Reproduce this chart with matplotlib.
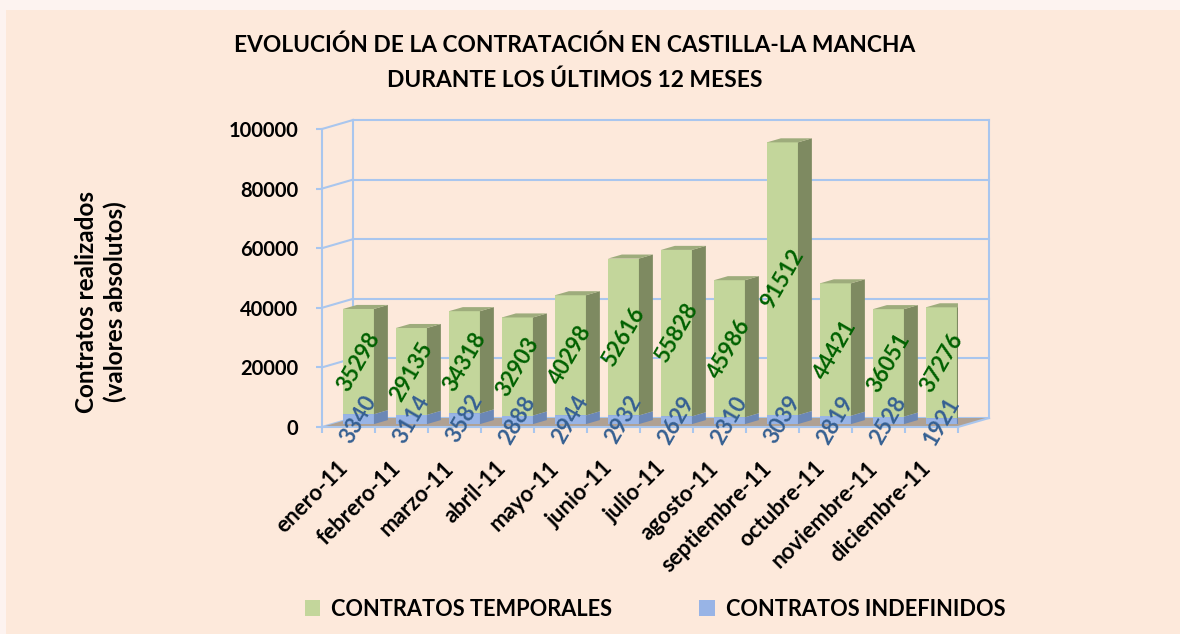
import numpy as np
import matplotlib.pyplot as plt
from matplotlib.patches import Polygon, Rectangle, Patch
import matplotlib.transforms as mtransforms

months = ['enero-11', 'febrero-11', 'marzo-11', 'abril-11', 'mayo-11', 'junio-11',
          'julio-11', 'agosto-11', 'septiembre-11', 'octubre-11', 'noviembre-11', 'diciembre-11']
temporales = [35298, 29135, 34318, 32903, 40298, 52616, 55828, 45986, 91512, 44421, 36051, 37276]
indefinidos = [3340, 3114, 3582, 2888, 2944, 2932, 2629, 2310, 3039, 2819, 2528, 1921]
yticks = [0, 20000, 40000, 60000, 80000, 100000]

plt.rcParams['font.family'] = ['Lato', 'DejaVu Sans']

W, H = 1180, 634
fig = plt.figure(figsize=(W / 100, H / 100), dpi=100, facecolor='#fdf3f0')
fig.patches.append(Rectangle((6 / W, 0), 1, 1 - 10 / H, transform=fig.transFigure,
                             facecolor='#fde9db', edgecolor='none', zorder=-10))

ax = fig.add_axes([322 / W, 1 - 427 / H, 636 / W, 298 / H])
ax.set_xlim(-0.5, len(months) - 0.5)
ax.set_ylim(0, 100000)
ax.patch.set_visible(False)
for s in ax.spines.values():
    s.set_visible(False)

# pixel -> data scale, used for the fake 3D depth
p0 = ax.transData.transform((0, 0))
p1 = ax.transData.transform((1, 1))
sx = p1[0] - p0[0]
sy = p1[1] - p0[1]
dX = 31 / sx
dY = 9 / sy

wall_c = '#a9c6ee'
xl, xr = -0.5, len(months) - 0.5

# floor
ax.add_patch(Polygon([(xl, 0), (xr, 0), (xr + dX, dY), (xl + dX, dY)], closed=True,
                     facecolor='#b0a193', edgecolor='none', zorder=1, clip_on=False))
# walls
for y in yticks:
    ax.plot([xl, xl + dX], [y, y + dY], color=wall_c, lw=1.5, zorder=0.5, clip_on=False)
    ax.plot([xl + dX, xr + dX], [y + dY, y + dY], color=wall_c, lw=1.5, zorder=0.5, clip_on=False)
ax.plot([xl, xl], [0, 100000], color=wall_c, lw=1.5, zorder=0.5, clip_on=False)
ax.plot([xl + dX, xl + dX], [dY, 100000 + dY], color=wall_c, lw=1.5, zorder=0.5, clip_on=False)
ax.plot([xr + dX, xr + dX], [dY, 100000 + dY], color=wall_c, lw=1.5, zorder=0.5, clip_on=False)
ax.plot([xr, xr + dX], [0, dY], color=wall_c, lw=1.5, zorder=1.2, clip_on=False)
ax.plot([xl, xr], [0, 0], color=wall_c, lw=1.5, zorder=1.2, clip_on=False)

# bars
w = 0.585
f0 = 0.32
fd = 0.45
ox, oy = f0 * dX, f0 * dY
bx, by = fd * dX, fd * dY
x = np.arange(len(months))
ind = np.array(indefinidos)
tmp = np.array(temporales)

series = [(np.zeros(len(x)), ind, '#98b4e6', '#6b87b6', '#8aa6d6', '#366092'),
          (ind, tmp, '#c3d69b', '#7e8a61', '#9eac7c', '#006100')]
for base, vals, c_front, c_side, c_top, c_lab in series:
    ax.bar(x + ox, vals, w, bottom=base + oy, color=c_front, edgecolor='none', zorder=2)
    for i in range(len(x)):
        x0 = x[i] + ox - w / 2
        b = base[i] + oy
        t = base[i] + vals[i] + oy
        ax.add_patch(Polygon([(x0 + w, b), (x0 + w + bx, b + by), (x0 + w + bx, t + by), (x0 + w, t)],
                             closed=True, facecolor=c_side, edgecolor='none', zorder=2))
        ax.add_patch(Polygon([(x0, t), (x0 + w, t), (x0 + w + bx, t + by), (x0 + bx, t + by)],
                             closed=True, facecolor=c_top, edgecolor='none', zorder=2))

for base, vals, c_front, c_side, c_top, c_lab in series:
    for i in range(len(x)):
        ax.text(x[i] + ox, base[i] + vals[i] / 2 + oy, str(vals[i]), rotation=60,
                rotation_mode='anchor', ha='center', va='center', fontsize=16,
                fontweight='bold', color=c_lab, zorder=5, clip_on=False)

# axes ticks
ax.set_yticks(yticks)
ax.set_yticklabels([str(v) for v in yticks], fontweight='bold', fontsize=14.5)
ax.tick_params(axis='y', length=4.3, width=1.5, color=wall_c, pad=13)
ax.set_xticks(x)
ax.set_xticklabels(months, rotation=45, ha='right', va='top', fontweight='bold', fontsize=16)
ax.tick_params(axis='x', length=0, pad=22)
ax.set_xticks(np.arange(-0.5, len(months)), minor=True)
ax.tick_params(axis='x', which='minor', length=4.3, width=1.5, color=wall_c)
shift = mtransforms.ScaledTranslation(3 / 100, 0, fig.dpi_scale_trans)
for lab in ax.get_xticklabels():
    lab.set_transform(lab.get_transform() + shift)

fig.text(101 / W, 1 - 302 / H, 'Contratos realizados\n(valores absolutos)', rotation=90,
         ha='center', va='center', fontweight='bold', fontsize=17.5, linespacing=1.3)

fig.text(575 / W, 1 - 45 / H, 'EVOLUCIÓN DE LA CONTRATACIÓN EN CASTILLA-LA MANCHA',
         ha='center', va='center', fontweight='bold', fontsize=16.4)
fig.text(575 / W, 1 - 80 / H, 'DURANTE LOS ÚLTIMOS 12 MESES',
         ha='center', va='center', fontweight='bold', fontsize=16.4)

handles = [Patch(facecolor='#c3d69b'), Patch(facecolor='#98b4e6')]
fig.legend(handles, ['CONTRATOS TEMPORALES', 'CONTRATOS INDEFINIDOS'], loc='center',
           bbox_to_anchor=(655 / W, 1 - 609 / H), ncol=2, frameon=False,
           prop={'weight': 'bold', 'size': 15.7}, handlelength=0.7, handleheight=0.7,
           handletextpad=0.5, columnspacing=4)

fig.savefig('out.png', dpi=100, facecolor=fig.get_facecolor())
